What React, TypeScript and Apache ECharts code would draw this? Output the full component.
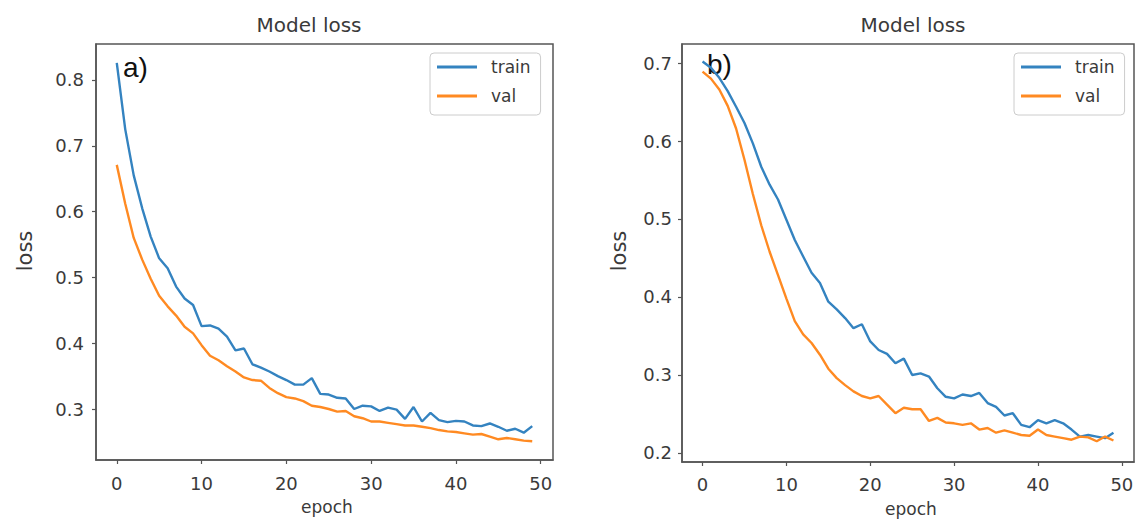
import React, { useEffect, useRef } from "react";
import * as echarts from "echarts";

const epochs = [
  0, 1, 2, 3, 4, 5, 6, 7, 8, 9, 10, 11, 12, 13, 14, 15, 16, 17, 18, 19,
  20, 21, 22, 23, 24, 25, 26, 27, 28, 29, 30, 31, 32, 33, 34, 35, 36, 37, 38, 39,
  40, 41, 42, 43, 44, 45, 46, 47, 48, 49,
];

const trainA = [
  0.826, 0.725, 0.655, 0.605, 0.562, 0.529, 0.514, 0.486, 0.468, 0.458,
  0.426, 0.427, 0.422, 0.41, 0.389, 0.392, 0.368, 0.363, 0.357, 0.35,
  0.344, 0.337, 0.337, 0.347, 0.323, 0.322, 0.317, 0.316, 0.3, 0.305,
  0.304, 0.297, 0.302, 0.299, 0.285, 0.303, 0.281, 0.294, 0.283, 0.28,
  0.282, 0.281, 0.275, 0.274, 0.278, 0.273, 0.267, 0.27, 0.264, 0.274,
];
const valA = [
  0.671, 0.612, 0.56, 0.527, 0.498, 0.472, 0.456, 0.442, 0.425, 0.415,
  0.397, 0.381, 0.374, 0.365, 0.357, 0.348, 0.344, 0.343, 0.332, 0.324,
  0.318, 0.316, 0.312, 0.305, 0.303, 0.3, 0.296, 0.297, 0.289, 0.286,
  0.281, 0.281, 0.279, 0.277, 0.275, 0.275, 0.273, 0.271, 0.268, 0.266,
  0.265, 0.263, 0.261, 0.262, 0.258, 0.254, 0.256, 0.254, 0.252, 0.251,
];
const trainB = [
  0.702, 0.694, 0.681, 0.664, 0.644, 0.623, 0.597, 0.567, 0.544, 0.525,
  0.499, 0.473, 0.452, 0.431, 0.418, 0.394, 0.384, 0.373, 0.36, 0.365,
  0.343, 0.332, 0.327, 0.315, 0.321, 0.3, 0.302, 0.298, 0.283, 0.272,
  0.27, 0.275, 0.273, 0.277, 0.264, 0.259, 0.248, 0.251, 0.236, 0.233,
  0.242, 0.238, 0.242, 0.238, 0.23, 0.221, 0.223, 0.221, 0.219, 0.226,
];
const valB = [
  0.689, 0.68, 0.666, 0.645, 0.616, 0.576, 0.532, 0.492, 0.458, 0.428,
  0.398, 0.369, 0.352, 0.341, 0.326, 0.308, 0.296, 0.287, 0.279, 0.273,
  0.27, 0.273, 0.262, 0.251, 0.258, 0.256, 0.256, 0.241, 0.245, 0.239,
  0.238, 0.236, 0.238, 0.23, 0.232, 0.226, 0.229, 0.226, 0.223, 0.222,
  0.23, 0.223, 0.221, 0.219, 0.217, 0.221, 0.22, 0.215, 0.221, 0.216,
];

const xTicks = [0, 10, 20, 30, 40, 50];
const yTicksA = [0.3, 0.4, 0.5, 0.6, 0.7, 0.8];
const yTicksB = [0.2, 0.3, 0.4, 0.5, 0.6, 0.7];

const FONT = "DejaVu Sans";
const TEXT = "#3a3a3a";
const FRAME = "#555555";
const BLUE = "#3483c0";
const ORANGE = "#ff8a22";

function pairs(ys: number[]) {
  return epochs.map((e, i) => [e, ys[i]]);
}

function xAxis(gridIndex: number, margin: number) {
  return {
    type: "value",
    gridIndex,
    min: -2.45,
    max: 51.45,
    axisLine: { show: true, onZero: false, lineStyle: { color: FRAME, width: 1.5 } },
    axisTick: { show: true, length: 4, customValues: xTicks, lineStyle: { color: FRAME, width: 1.2 } },
    axisLabel: { show: true, customValues: xTicks, margin, fontSize: 18, fontFamily: FONT, color: TEXT },
    splitLine: { show: false },
  };
}

function yAxis(gridIndex: number, min: number, max: number, ticks: number[], margin: number) {
  return {
    type: "value",
    gridIndex,
    min,
    max,
    axisLine: { show: true, onZero: false, lineStyle: { color: FRAME, width: 1.5 } },
    axisTick: { show: true, length: 4, customValues: ticks, lineStyle: { color: FRAME, width: 1.2 } },
    axisLabel: {
      show: true,
      customValues: ticks,
      margin,
      fontSize: 18,
      fontFamily: FONT,
      color: TEXT,
      formatter: (v: number) => v.toFixed(1),
    },
    splitLine: { show: false },
  };
}

function legend(left: number) {
  return {
    left,
    top: 53,
    orient: "vertical",
    itemWidth: 40,
    itemHeight: 3,
    itemGap: 9,
    padding: [4, 10, 9, 7],
    borderColor: "#cccccc",
    borderWidth: 1,
    borderRadius: 4,
    backgroundColor: "rgba(255,255,255,0.85)",
    data: [
      { name: "train", icon: "rect" },
      { name: "val", icon: "rect" },
    ],
    textStyle: { fontSize: 17, fontFamily: FONT, color: TEXT, lineHeight: 20, padding: [0, 0, 0, 9] },
  };
}

function line(name: string, color: string, ys: number[], idx: number) {
  return {
    type: "line",
    name,
    xAxisIndex: idx,
    yAxisIndex: idx,
    data: pairs(ys),
    color,
    showSymbol: false,
    symbol: "none",
    lineStyle: { color, width: 2.4 },
  };
}

function label(text: string, x: number, y: number, size: number, opts: any = {}) {
  return {
    type: "text",
    x,
    y,
    rotation: opts.rotation || 0,
    style: {
      text,
      fontSize: size,
      fontFamily: opts.family || FONT,
      fill: opts.fill || TEXT,
      align: opts.align || "center",
      verticalAlign: "middle",
    },
  };
}

export default function App() {
  const ref = useRef<HTMLDivElement>(null);

  useEffect(() => {
    if (!ref.current) return;
    const chart = echarts.init(ref.current, null, { renderer: "svg" });
    chart.setOption({
      animation: false,
      backgroundColor: "#ffffff",
      grid: [
        { left: 96, top: 44, width: 457, height: 416, show: true, borderColor: FRAME, borderWidth: 1.5 },
        { left: 682, top: 44, width: 452, height: 418, show: true, borderColor: FRAME, borderWidth: 1.5 },
      ],
      xAxis: [xAxis(0, 14), xAxis(1, 13)],
      yAxis: [
        yAxis(0, 0.2225, 0.8547, yTicksA, 12),
        yAxis(1, 0.1884, 0.7244, yTicksB, 10),
      ],
      legend: [legend(430), legend(1014)],
      series: [
        line("train", BLUE, trainA, 0),
        line("val", ORANGE, valA, 0),
        line("train", BLUE, trainB, 1),
        line("val", ORANGE, valB, 1),
      ],
      graphic: [
        label("Model loss", 309, 25, 20),
        label("Model loss", 913, 25, 20),
        label("loss", 25, 251, 21, { rotation: Math.PI / 2 }),
        label("loss", 619, 251, 21, { rotation: Math.PI / 2 }),
        label("epoch", 327, 507, 17),
        label("epoch", 911, 509, 17),
        label("a)", 123, 67, 28, { family: "Liberation Sans", fill: "#111111", align: "left" }),
        label("b)", 707, 64, 28, { family: "Liberation Sans", fill: "#111111", align: "left" }),
      ],
    });
    return () => chart.dispose();
  }, []);

  return (
    <div
      ref={ref}
      style={{ position: "absolute", left: 0, top: 0, width: 1142, height: 520 }}
    />
  );
}
